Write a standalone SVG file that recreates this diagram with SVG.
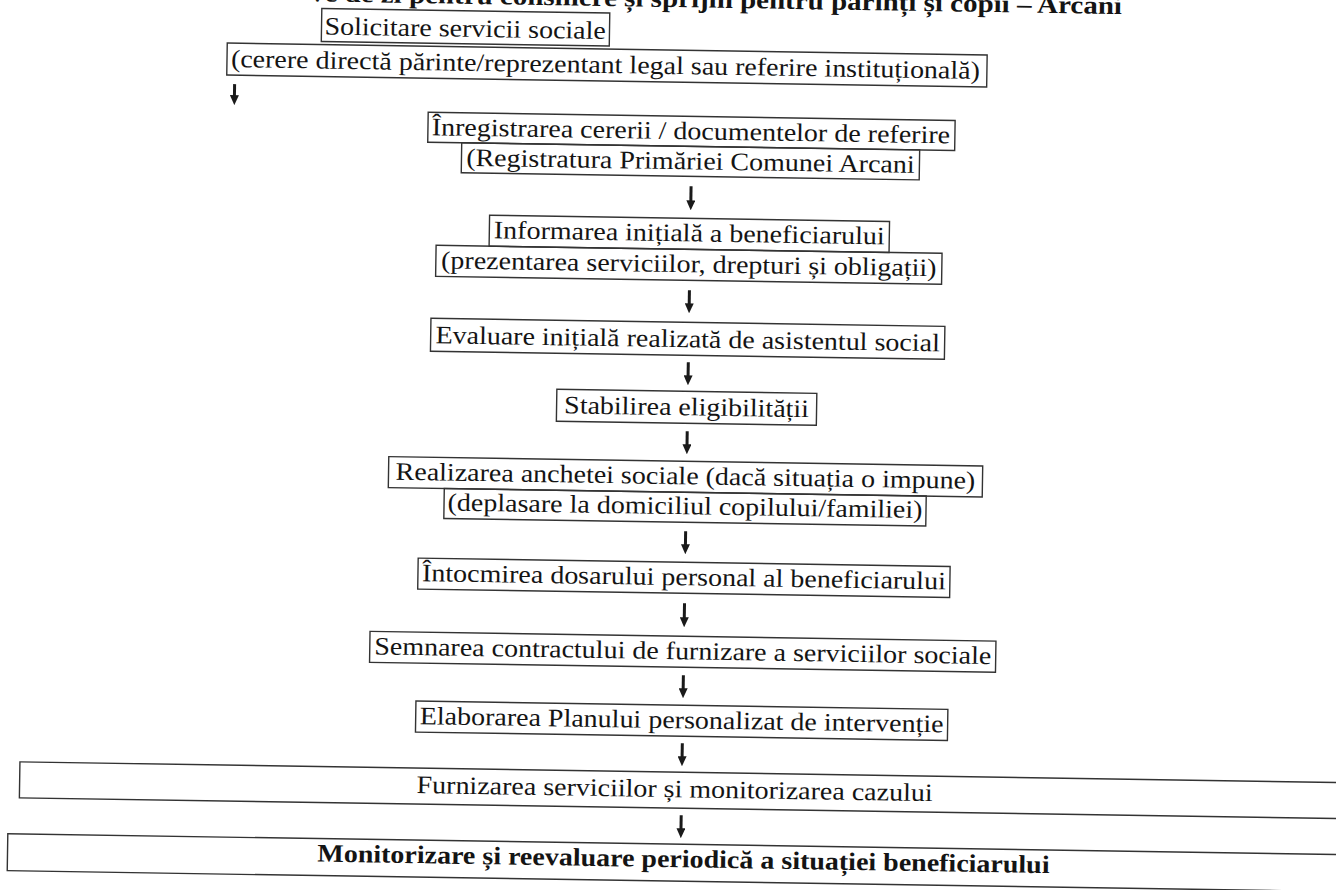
<svg xmlns="http://www.w3.org/2000/svg" width="1336" height="890" viewBox="0 0 1336 890">
<style>
.bx{fill:none;stroke:#333;stroke-width:1.4}
.t{font-family:'Liberation Serif','Times New Roman',serif;font-size:28px;fill:#141414}
.b{font-weight:bold}
.m{text-anchor:middle}
.ar{stroke:#1a1a1a;stroke-width:3;fill:none;marker-end:url(#ah)}
</style>
<defs>
<marker id="ah" markerUnits="userSpaceOnUse" markerWidth="10" markerHeight="9" viewBox="0 0 10 9" refX="3" refY="4.5" orient="auto">
<path d="M0,0 L10,4.5 L0,9 z" fill="#1a1a1a"/>
</marker>
</defs>
<rect width="1336" height="890" fill="#fff"/>
<g transform="rotate(0.9 668 445)">
<text class="t b" transform="translate(303,7) scale(1,0.9)" textLength="812" lengthAdjust="spacingAndGlyphs">ve de zi pentru consiliere și sprijin pentru părinți și copii – Arcani</text>
<g id="n1"><rect class="bx" x="315" y="14" width="288" height="33"/><text class="t" transform="translate(318,40) scale(1,0.9)">Solicitare servicii sociale</text></g>
<g id="n2"><rect class="bx" x="221" y="50" width="760" height="32"/><text class="t" transform="translate(225,74) scale(1,0.9)">(cerere directă părinte/reprezentant legal sau referire instituțională)</text></g>
<g id="n3"><rect class="bx" x="423" y="116" width="527" height="30"/><text class="t m" transform="translate(686,139) scale(1,0.9)">Înregistrarea cererii / documentelor de referire</text></g>
<g id="n4"><rect class="bx" x="457" y="146" width="458" height="30"/><text class="t m" transform="translate(686,169) scale(1,0.9)">(Registratura Primăriei Comunei Arcani</text></g>
<g id="n5"><rect class="bx" x="486" y="218" width="400" height="31"/><text class="t m" transform="translate(686,241) scale(1,0.9)">Informarea inițială a beneficiarului</text></g>
<g id="n6"><rect class="bx" x="433" y="249" width="506" height="31"/><text class="t m" transform="translate(686,272) scale(1,0.9)">(prezentarea serviciilor, drepturi și obligații)</text></g>
<g id="n7"><rect class="bx" x="429" y="322" width="514" height="33"/><text class="t m" transform="translate(686,347) scale(1,0.9)">Evaluare inițială realizată de asistentul social</text></g>
<g id="n8"><rect class="bx" x="556" y="391" width="260" height="32"/><text class="t m" transform="translate(686,415) scale(1,0.9)">Stabilirea eligibilității</text></g>
<g id="n9"><rect class="bx" x="389" y="461" width="594" height="31"/><text class="t m" transform="translate(686,484) scale(1,0.9)">Realizarea anchetei sociale (dacă situația o impune)</text></g>
<g id="n10"><rect class="bx" x="445" y="492" width="482" height="30"/><text class="t m" transform="translate(686,514) scale(1,0.9)">(deplasare la domiciliul copilului/familiei)</text></g>
<g id="n11"><rect class="bx" x="420" y="562" width="532" height="31"/><text class="t m" transform="translate(686,585) scale(1,0.9)">Întocmirea dosarului personal al beneficiarului</text></g>
<g id="n12"><rect class="bx" x="373" y="636" width="626" height="31"/><text class="t m" transform="translate(686,659) scale(1,0.9)">Semnarea contractului de furnizare a serviciilor sociale</text></g>
<g id="n13"><rect class="bx" x="420" y="705" width="532" height="31"/><text class="t m" transform="translate(686,728) scale(1,0.9)">Elaborarea Planului personalizat de intervenție</text></g>
<g id="n14"><rect class="bx" x="25" y="772" width="1350" height="36"/><text class="t m" transform="translate(680,797) scale(1,0.9)">Furnizarea serviciilor și monitorizarea cazului</text></g>
<g id="n15"><rect class="bx" x="14" y="844" width="1360" height="37"/><text class="t b m" transform="translate(690,867) scale(1,0.9)">Monitorizare și reevaluare periodică a situației beneficiarului</text></g>
<g id="connectors">
<line class="ar" x1="229" y1="91" x2="229" y2="105"/>
<line class="ar" x1="687" y1="186" x2="687" y2="203"/>
<line class="ar" x1="687" y1="290" x2="687" y2="306"/>
<line class="ar" x1="687" y1="362" x2="687" y2="378"/>
<line class="ar" x1="687" y1="431" x2="687" y2="447"/>
<line class="ar" x1="687" y1="531" x2="687" y2="547"/>
<line class="ar" x1="687" y1="603" x2="687" y2="620"/>
<line class="ar" x1="687" y1="675" x2="687" y2="691"/>
<line class="ar" x1="687" y1="743" x2="687" y2="759"/>
<line class="ar" x1="687" y1="815" x2="687" y2="831"/>
</g>
</g>
</svg>
